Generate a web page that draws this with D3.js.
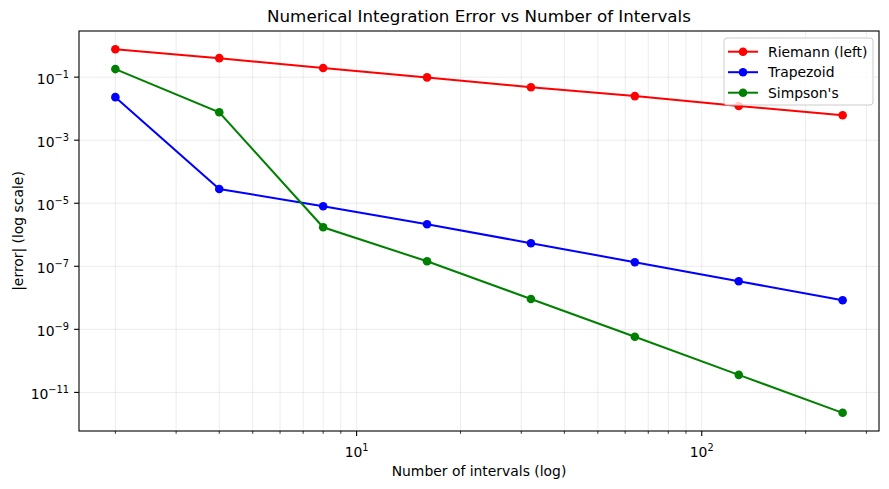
<!DOCTYPE html>
<html>
<head>
<meta charset="utf-8">
<script src="https://cdn.jsdelivr.net/npm/d3@7"></script>
<style>
  body { margin: 0; background: #fff; }
  svg { font-family: "DejaVu Sans", sans-serif; }
  .grid line { stroke: #b0b0b0; stroke-opacity: 0.3; stroke-width: 0.8px; }
  .tick-label { font-size: 13.9px; fill: #000; }
</style>
</head>
<body>
<svg id="chart" width="889" height="489"></svg>
<script>
// values
var intervals = [2, 4, 8, 16, 32, 64, 128, 256];
var riemann   = [0.77, 0.40, 0.194, 0.098, 0.048, 0.025, 0.0122, 0.0062];
var trapezoid = [0.0232, 2.84e-5, 8.0e-6, 2.15e-6, 5.4e-7, 1.35e-7, 3.35e-8, 8.4e-9];
var simpson   = [0.18, 7.7e-3, 1.73e-6, 1.44e-7, 9.2e-9, 5.8e-10, 3.6e-11, 2.25e-12];
var seriesNames = ["Riemann (left)", "Trapezoid", "Simpson's"];
var xMajor = [10, 100];
var xMinor = [2, 3, 4, 5, 6, 7, 8, 9, 20, 30, 40, 50, 60, 70, 80, 90, 200, 300];
var yMajor = [1e-11, 1e-9, 1e-7, 1e-5, 1e-3, 1e-1];

var colors = ["#ff0000", "#0000ff", "#008000"];
var series = [riemann, trapezoid, simpson].map(function(vals, i) {
  return {
    name: seriesNames[i],
    color: colors[i],
    points: intervals.map(function(n, j) { return {x: n, y: vals[j]}; })
  };
});

var box = {left: 79, top: 31, right: 879, bottom: 431};

// matplotlib style 5% margins on log axes
var lx = [Math.log10(2), Math.log10(256)];
var padX = (lx[1] - lx[0]) * 0.05;
var x = d3.scaleLog()
  .domain([Math.pow(10, lx[0] - padX), Math.pow(10, lx[1] + padX)])
  .range([box.left, box.right]);

var ly = [Math.log10(d3.min(simpson)), Math.log10(d3.max(riemann))];
var padY = (ly[1] - ly[0]) * 0.05;
var y = d3.scaleLog()
  .domain([Math.pow(10, ly[0] - padY), Math.pow(10, ly[1] + padY)])
  .range([box.bottom, box.top]);

var svg = d3.select("#chart");

// grid
var grid = svg.append("g").classed("grid", true);
grid.selectAll("line.gx")
  .data(xMajor.concat(xMinor).filter(function(v) { return x(v) > box.left && x(v) < box.right; }))
  .enter().append("line")
  .attr("x1", function(v) { return x(v); })
  .attr("x2", function(v) { return x(v); })
  .attr("y1", box.top)
  .attr("y2", box.bottom);
grid.selectAll("line.gy")
  .data(yMajor)
  .enter().append("line")
  .attr("x1", box.left)
  .attr("x2", box.right)
  .attr("y1", function(v) { return y(v); })
  .attr("y2", function(v) { return y(v); });

// series
var line = d3.line()
  .x(function(d) { return x(d.x); })
  .y(function(d) { return y(d.y); });

var gxSeries = svg.selectAll("g.series")
  .data(series)
  .enter().append("g")
  .classed("series", true);

gxSeries.append("path")
  .attr("d", function(s) { return line(s.points); })
  .attr("fill", "none")
  .attr("stroke", function(s) { return s.color; })
  .attr("stroke-width", 2);

gxSeries.selectAll("circle")
  .data(function(s) { return s.points.map(function(p) { return {p: p, c: s.color}; }); })
  .enter().append("circle")
  .attr("cx", function(d) { return x(d.p.x); })
  .attr("cy", function(d) { return y(d.p.y); })
  .attr("r", 4.3)
  .attr("fill", function(d) { return d.c; });

// axes frame
svg.append("rect")
  .attr("x", box.left).attr("y", box.top)
  .attr("width", box.right - box.left).attr("height", box.bottom - box.top)
  .attr("fill", "none").attr("stroke", "#000").attr("stroke-width", 1.1);

// x ticks
var xt = svg.append("g");
xt.selectAll("line.major")
  .data(xMajor).enter().append("line")
  .attr("x1", function(v) { return x(v); }).attr("x2", function(v) { return x(v); })
  .attr("y1", box.bottom).attr("y2", box.bottom + 4.9)
  .attr("stroke", "#000").attr("stroke-width", 1.1);
xt.selectAll("line.minor")
  .data(xMinor.filter(function(v) { return x(v) > box.left && x(v) < box.right; }))
  .enter().append("line")
  .attr("x1", function(v) { return x(v); }).attr("x2", function(v) { return x(v); })
  .attr("y1", box.bottom).attr("y2", box.bottom + 2.8)
  .attr("stroke", "#000").attr("stroke-width", 0.8);

function powLabel(sel, v) {
  var e = Math.round(Math.log10(v));
  sel.append("tspan").text("10");
  sel.append("tspan")
    .attr("dy", -6)
    .attr("font-size", "9.8px")
    .text(e < 0 ? "\u2212" + (-e) : String(e));
}

xt.selectAll("text")
  .data(xMajor).enter().append("text")
  .classed("tick-label", true)
  .attr("x", function(v) { return x(v); })
  .attr("y", box.bottom + 26)
  .attr("text-anchor", "middle")
  .each(function(v) { powLabel(d3.select(this), v); });

// y ticks
var yt = svg.append("g");
yt.selectAll("line")
  .data(yMajor).enter().append("line")
  .attr("x1", box.left - 4.9).attr("x2", box.left)
  .attr("y1", function(v) { return y(v); }).attr("y2", function(v) { return y(v); })
  .attr("stroke", "#000").attr("stroke-width", 1.1);
yt.selectAll("text")
  .data(yMajor).enter().append("text")
  .classed("tick-label", true)
  .attr("x", box.left - 10)
  .attr("y", function(v) { return y(v) + 6.5; })
  .attr("text-anchor", "end")
  .each(function(v) { powLabel(d3.select(this), v); });

// labels
svg.append("text")
  .attr("x", (box.left + box.right) / 2)
  .attr("y", 22)
  .attr("text-anchor", "middle")
  .attr("font-size", "16.7px")
  .text("Numerical Integration Error vs Number of Intervals");

svg.append("text")
  .attr("x", (box.left + box.right) / 2)
  .attr("y", 476)
  .attr("text-anchor", "middle")
  .attr("font-size", "13.9px")
  .text("Number of intervals (log)");

svg.append("text")
  .attr("transform", "translate(23," + ((box.top + box.bottom) / 2) + ") rotate(-90)")
  .attr("text-anchor", "middle")
  .attr("font-size", "13.9px")
  .text("|error| (log scale)");

// legend
var legend = svg.append("g").attr("transform", "translate(724,38)");
legend.append("rect")
  .attr("width", 149).attr("height", 67)
  .attr("rx", 3)
  .attr("fill", "#fff").attr("fill-opacity", 0.8)
  .attr("stroke", "#cccccc").attr("stroke-width", 1);

var items = legend.selectAll("g.item")
  .data(series).enter().append("g")
  .attr("transform", function(s, i) { return "translate(0," + (13.7 + i * 20.5) + ")"; });
items.append("line")
  .attr("x1", 4).attr("x2", 34)
  .attr("stroke", function(s) { return s.color; })
  .attr("stroke-width", 2);
items.append("circle")
  .attr("cx", 19).attr("r", 4.3)
  .attr("fill", function(s) { return s.color; });
items.append("text")
  .attr("x", 44).attr("y", 5)
  .attr("font-size", "13.9px")
  .text(function(s) { return s.name; });
</script>
</body>
</html>
